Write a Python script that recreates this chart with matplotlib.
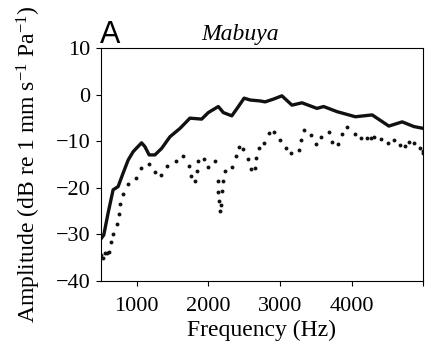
import matplotlib
matplotlib.use("Agg")
import matplotlib.pyplot as plt

# Solid curve (upper response)
freq_solid = [500, 543, 603, 673, 743, 813, 883, 953, 1070, 1116, 1176, 1256,
              1350, 1466, 1606, 1745, 1909, 2001, 2141, 2211, 2329, 2421, 2501,
              2585, 2725, 2794, 2911, 3028, 3168, 3308, 3517, 3610, 3797, 4053,
              4287, 4520, 4706, 4869, 5000]
amp_solid = [-31.0, -30.1, -25.4, -20.4, -19.7, -16.8, -14.0, -12.2, -10.3, -11.1,
             -12.9, -12.9, -11.5, -9.0, -7.2, -5.0, -5.2, -3.8, -2.5, -3.8, -4.5,
             -2.5, -0.7, -1.1, -1.3, -1.5, -0.9, -0.2, -2.2, -1.7, -2.9, -2.5,
             -3.6, -4.7, -4.3, -6.7, -5.8, -6.8, -7.2]

# Dotted series (lower response)
freq_dots = [500, 537, 561, 593, 621, 645, 677, 725, 757, 771, 809, 883, 990,
             1056, 1176, 1256, 1336, 1420, 1550, 1643, 1727, 1755, 1815, 1839,
             1861, 1941, 1993, 2095, 2133, 2141, 2155, 2165, 2175, 2189, 2211,
             2235, 2333, 2385, 2435, 2483, 2561, 2595, 2655, 2669, 2711, 2780,
             2841, 2911, 3004, 3088, 3154, 3260, 3294, 3340, 3434, 3504, 3573,
             3680, 3727, 3805, 3867, 3937, 4053, 4133, 4217, 4277, 4319, 4417,
             4510, 4598, 4673, 4743, 4808, 4869, 4953, 4990, 5000]
amp_dots = [-34.4, -35.1, -34.0, -33.9, -33.8, -31.7, -29.9, -27.7, -25.6, -23.4,
            -21.3, -19.2, -17.9, -15.8, -14.8, -16.6, -17.2, -15.2, -14.3, -13.1,
            -15.3, -17.4, -18.6, -16.3, -14.2, -13.8, -15.5, -14.3, -18.6, -20.8,
            -22.9, -24.9, -23.6, -20.6, -18.4, -16.3, -15.4, -13.1, -11.1, -11.7,
            -13.8, -16.0, -15.8, -13.6, -11.5, -10.3, -8.2, -8.0, -9.8, -11.5,
            -12.4, -11.8, -9.7, -7.5, -8.6, -10.5, -9.0, -8.0, -10.2, -10.5, -8.5,
            -7.0, -8.4, -9.3, -9.2, -9.3, -9.1, -9.5, -10.3, -9.7, -10.8, -11.0,
            -10.2, -10.3, -11.5, -12.0, -12.5]

xticks = [1000, 2000, 3000, 4000, 5000]
xtick_labels = ["1000", "2000", "3000", "4000", ""]
yticks = [-40, -30, -20, -10, 0, 10]
ytick_labels = ["\u221240", "\u221230", "\u221220", "\u221210", "0", "10"]

plt.rcParams['font.family'] = 'Liberation Serif'
plt.rcParams['mathtext.fontset'] = 'custom'
plt.rcParams['mathtext.rm'] = 'Liberation Serif'
plt.rcParams['mathtext.it'] = 'Liberation Serif:italic'

fig = plt.figure(figsize=(4.35, 3.48), dpi=100)
ax = fig.add_axes([0.2315, 0.1925, 0.7415, 0.6685])

ax.plot(freq_solid, amp_solid, color='#111111', linewidth=2.4, solid_joinstyle='round')
ax.plot(freq_dots, amp_dots, linestyle='none', marker='o', markersize=2.8,
        color='#111111', markeredgewidth=0)

ax.set_xlim(500, 5000)
ax.set_ylim(-40, 10)
ax.set_xticks(xticks)
ax.set_xticklabels(xtick_labels)
ax.set_yticks(yticks)
ax.set_yticklabels(ytick_labels)
ax.tick_params(direction='out', length=3.6, width=0.8, labelsize=16)
ax.tick_params(axis='x', pad=8)
ax.tick_params(axis='y', pad=4)
for s in ax.spines.values():
    s.set_linewidth(0.8)

ax.set_xlabel('Frequency (Hz)', fontsize=17, labelpad=3)
ax.set_ylabel('Amplitude (dB re 1 mm s$^{-1}$ Pa$^{-1}$)', fontsize=17)
ax.yaxis.set_label_coords(-0.18, 0.5)

fig.text(0.552, 0.885, 'Mabuya', fontsize=17, style='italic',
         ha='center', va='baseline')
fig.text(0.229, 0.876, 'A', fontsize=22, family='Liberation Sans', va='baseline')

fig.savefig('out.png', dpi=100)
